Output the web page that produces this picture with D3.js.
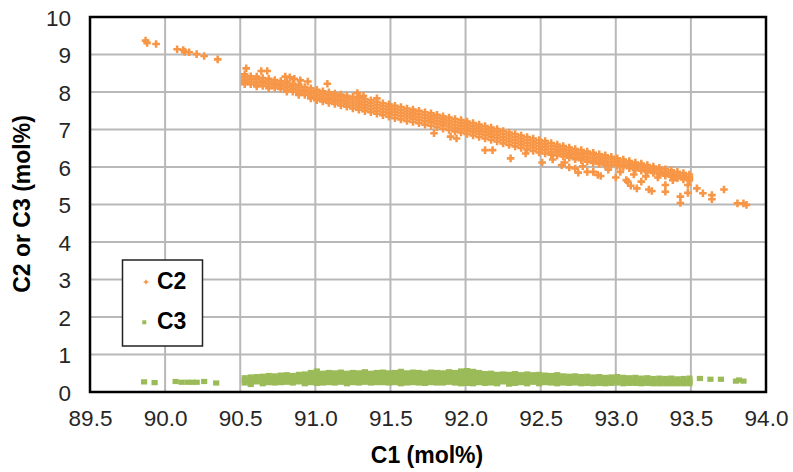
<!DOCTYPE html>
<html><head><meta charset="utf-8">
<script src="https://cdn.jsdelivr.net/npm/d3@7"></script>
<style>body{margin:0;background:#fff}svg{display:block}text{font-family:"Liberation Sans",Arial,sans-serif}</style>
</head><body>
<svg id="chart" width="793" height="472"></svg>
<script>
// ---- Data ----
const xTicks = [89.5, 90.0, 90.5, 91.0, 91.5, 92.0, 92.5, 93.0, 93.5, 94.0];
const yTicks = [0,1,2,3,4,5,6,7,8,9,10];

// C1 columns of the dense band
const bandC1 = [90.53,90.57,90.61,90.65,90.69,90.73,90.77,90.81,90.85,90.89,90.93,90.97,
91.01,91.05,91.09,91.13,91.17,91.21,91.25,91.29,91.33,91.37,91.41,91.45,91.49,
91.53,91.57,91.61,91.65,91.69,91.73,91.77,91.81,91.85,91.89,91.93,91.97,
92.01,92.05,92.09,92.13,92.17,92.21,92.25,92.29,92.33,92.37,92.41,92.45,92.49,
92.53,92.57,92.61,92.65,92.69,92.73,92.77,92.81,92.85,92.89,92.93,92.97,
93.01,93.05,93.09,93.13,93.17,93.21,93.25,93.29,93.33,93.37,93.41,93.45,93.49];

// C2 values in each band column
const bandC2 = [
[8.47,8.40,8.33,8.26,8.21],[8.42,8.35,8.28,8.21],[8.41,8.34,8.27,8.20,8.15],[8.37,8.30,8.23,8.16],
[8.35,8.28,8.21,8.14,8.10],[8.32,8.25,8.18,8.11],[8.29,8.22,8.15,8.08],[8.27,8.20,8.13,8.06,8.01],
[8.22,8.15,8.08,8.01],[8.19,8.12,8.05,7.98,7.92],[8.13,8.06,7.99,7.92],[8.10,8.03,7.96,7.89,7.83],
[8.06,7.99,7.92,7.85,7.78],[8.02,7.95,7.88,7.81,7.75],[7.99,7.92,7.85,7.78,7.71],[7.96,7.89,7.82,7.75,7.68],
[7.93,7.86,7.79,7.72,7.64],[7.90,7.83,7.76,7.69,7.61],[7.87,7.80,7.72,7.64,7.56],[7.85,7.77,7.69,7.61,7.53],
[7.81,7.73,7.65,7.57,7.49],[7.78,7.70,7.62,7.54,7.46],[7.74,7.66,7.58,7.50,7.42],[7.70,7.62,7.54,7.46,7.38],
[7.67,7.59,7.51,7.43,7.34],[7.63,7.55,7.47,7.39,7.30],[7.60,7.52,7.44,7.36,7.27],[7.56,7.48,7.40,7.32,7.23],
[7.53,7.45,7.37,7.29,7.20],[7.50,7.42,7.34,7.26,7.17],[7.46,7.38,7.30,7.22,7.13],[7.43,7.35,7.27,7.19,7.10],
[7.39,7.31,7.23,7.15,7.06],[7.35,7.27,7.19,7.11,7.02],[7.32,7.24,7.16,7.08,6.99],[7.28,7.20,7.12,7.04,6.95],
[7.25,7.17,7.09,7.01,6.92],[7.21,7.13,7.05,6.97,6.88],[7.17,7.09,7.01,6.93,6.84],[7.13,7.05,6.97,6.89,6.80],
[7.09,7.01,6.93,6.85,6.76],[7.05,6.97,6.89,6.81,6.72],[7.01,6.93,6.85,6.77,6.68],[6.96,6.88,6.80,6.72,6.63],
[6.92,6.84,6.76,6.68,6.59],[6.88,6.80,6.72,6.64,6.55],[6.84,6.76,6.68,6.60,6.51],[6.80,6.72,6.64,6.56,6.47],
[6.76,6.68,6.60,6.52,6.43],[6.72,6.64,6.56,6.48,6.39],[6.69,6.61,6.53,6.45,6.36],[6.64,6.56,6.48,6.40,6.33],
[6.60,6.53,6.46,6.39,6.31],[6.56,6.49,6.42,6.35,6.28],[6.52,6.45,6.38,6.31,6.25],[6.48,6.41,6.34,6.27,6.21],
[6.45,6.38,6.31,6.24,6.18],[6.41,6.34,6.27,6.20,6.14],[6.38,6.31,6.24,6.17,6.11],[6.34,6.27,6.20,6.13,6.08],
[6.31,6.24,6.17,6.10,6.05],[6.27,6.20,6.13,6.06],[6.23,6.16,6.09,6.03],[6.20,6.13,6.06,6.00],
[6.16,6.09,6.02,5.97],[6.12,6.05,5.99,5.93],[6.09,6.02,5.96,5.90],[6.05,5.98,5.92,5.87],
[6.01,5.94,5.88,5.84],[5.98,5.91,5.85,5.80],[5.94,5.87,5.82,5.77],[5.91,5.84,5.79,5.74],
[5.87,5.80,5.75,5.70],[5.84,5.77,5.72,5.67],[5.80,5.73,5.68,5.64]];

// C3 values in each band column
const bandC3 = [
[0.38,0.31,0.24],[0.40,0.33,0.26,0.20],[0.41,0.34,0.27],[0.42,0.35,0.28,0.22],
[0.44,0.37,0.30,0.25],[0.43,0.36,0.29,0.24],[0.45,0.38,0.31,0.25],[0.46,0.39,0.32,0.26],
[0.44,0.37,0.30,0.24],[0.47,0.40,0.33,0.27],[0.48,0.41,0.34,0.27,0.22],[0.52,0.45,0.38,0.31,0.25],
[0.56,0.49,0.42,0.35,0.28,0.23],[0.50,0.43,0.36,0.29,0.24],[0.52,0.45,0.38,0.31,0.25],[0.51,0.44,0.37,0.30,0.24],
[0.53,0.46,0.39,0.32,0.26],[0.50,0.43,0.36,0.29,0.22],[0.52,0.45,0.38,0.31,0.25],[0.51,0.44,0.37,0.30,0.24],
[0.54,0.47,0.40,0.33,0.26],[0.50,0.43,0.36,0.29,0.24],[0.52,0.45,0.38,0.31,0.25],[0.53,0.46,0.39,0.32,0.25],
[0.51,0.44,0.37,0.30,0.24],[0.52,0.45,0.38,0.31,0.25],[0.55,0.48,0.41,0.34,0.27,0.22],[0.51,0.44,0.37,0.30,0.24],
[0.53,0.46,0.39,0.32,0.25],[0.52,0.45,0.38,0.31,0.24],[0.50,0.43,0.36,0.29,0.23],[0.53,0.46,0.39,0.32,0.25],
[0.52,0.45,0.38,0.31,0.24],[0.51,0.44,0.37,0.30,0.24],[0.54,0.47,0.40,0.33,0.26],[0.52,0.45,0.38,0.31,0.24],
[0.56,0.49,0.42,0.35,0.28,0.22],[0.57,0.50,0.43,0.36,0.29,0.23],[0.55,0.48,0.41,0.34,0.27,0.22],[0.52,0.45,0.38,0.31,0.25],
[0.49,0.42,0.35,0.28,0.23],[0.50,0.43,0.36,0.29,0.24],[0.47,0.40,0.33,0.26,0.22],[0.48,0.41,0.34,0.27],
[0.47,0.40,0.33,0.26,0.21],[0.49,0.42,0.35,0.28,0.23],[0.46,0.39,0.32,0.25],[0.48,0.41,0.34,0.27,0.22],
[0.46,0.39,0.32,0.26],[0.47,0.40,0.33,0.26,0.22],[0.45,0.38,0.31,0.25],[0.44,0.37,0.30,0.24],
[0.46,0.39,0.32,0.26,0.22],[0.43,0.36,0.29,0.24],[0.42,0.35,0.28,0.23],[0.43,0.36,0.29,0.24],
[0.41,0.34,0.27,0.22],[0.42,0.35,0.28,0.23],[0.40,0.33,0.27,0.22],[0.41,0.34,0.28,0.23],
[0.39,0.33,0.27,0.22],[0.40,0.34,0.28,0.23],[0.41,0.35,0.29,0.24],[0.39,0.33,0.27,0.22],
[0.38,0.32,0.27,0.23],[0.39,0.33,0.28,0.23],[0.37,0.31,0.26,0.22],[0.38,0.32,0.27,0.23],
[0.36,0.31,0.26,0.22],[0.37,0.31,0.26,0.22],[0.36,0.30,0.25,0.22],[0.37,0.31,0.26,0.22],
[0.35,0.30,0.25,0.22],[0.36,0.30,0.25,0.22],[0.37,0.31,0.26,0.22]];

// scattered C2 points outside the band [C1, C2]
const c2Scatter = [
[89.87,9.37],[89.88,9.31],[89.94,9.28],[90.08,9.14],[90.12,9.12],[90.13,9.07],[90.16,9.06],[90.21,9.01],[90.26,8.96],[90.35,8.87],
[90.54,8.63],[90.64,8.56],[90.68,8.56],[90.80,8.41],[90.83,8.39],[90.86,8.35],[90.90,8.31],[90.95,8.28],[91.08,8.22],
[91.28,7.97],[91.32,7.90],[91.41,7.83],
[91.79,6.90],[91.90,6.81],[91.94,6.76],[92.13,6.45],[92.18,6.45],[92.30,6.23],[92.40,6.36],[92.58,6.20],[92.66,6.12],
[92.51,6.12],[92.64,6.05],[92.69,5.99],[92.73,5.96],[92.75,5.85],[92.78,6.02],[92.81,5.87],[92.85,5.87],[92.88,5.79],[92.90,5.76],
[92.95,5.93],[93.00,5.72],[93.03,5.87],[93.07,5.65],[93.08,5.61],[93.10,5.50],[93.12,5.80],[93.14,5.43],[93.17,5.61],[93.20,5.75],
[93.22,5.40],[93.24,5.36],[93.28,5.72],[93.33,5.52],[93.33,5.34],[93.38,5.65],[93.43,5.21],[93.43,5.04],[93.48,5.31],
[93.48,5.52],[93.54,5.43],[93.58,5.30],[93.64,5.25],[93.64,5.14],[93.72,5.40],[93.81,5.03],[93.85,5.03],[93.87,4.99]];

// scattered C3 points outside the band [C1, C3]
const c3Scatter = [
[89.86,0.27],[89.93,0.25],[90.07,0.28],[90.11,0.26],[90.15,0.26],[90.18,0.26],[90.21,0.26],[90.26,0.28],[90.34,0.24],
[93.56,0.36],[93.63,0.34],[93.70,0.34],[93.80,0.29],[93.82,0.32],[93.85,0.29]];

const seriesNames = ["C2", "C3"];
const seriesColors = ["#F79646", "#9BBB59"];

// ---- Build point lists ----
const c2Points = c2Scatter.slice();
bandC1.forEach((x, i) => bandC2[i].forEach(y => c2Points.push([x, y])));
const c3Points = c3Scatter.slice();
bandC1.forEach((x, i) => bandC3[i].forEach(y => c3Points.push([x, y])));

// ---- Layout ----
const svg = d3.select("#chart");
const L = 90, R = 766, T = 17, B = 392;
const x = d3.scaleLinear().domain([89.5, 94.0]).range([L, R]);
const y = d3.scaleLinear().domain([0, 10]).range([B, T]);

// gridlines
svg.append("g").selectAll("line.v").data(xTicks).join("line")
  .attr("x1", d => x(d)).attr("x2", d => x(d)).attr("y1", T).attr("y2", B)
  .attr("stroke", "#b8b8b8").attr("stroke-width", 2);
svg.append("g").selectAll("line.h").data(yTicks).join("line")
  .attr("x1", L).attr("x2", R).attr("y1", d => y(d)).attr("y2", d => y(d))
  .attr("stroke", "#b8b8b8").attr("stroke-width", 2);

// axes (labels only)
const xAxis = svg.append("g").attr("transform", `translate(0,${B})`)
  .call(d3.axisBottom(x).tickValues(xTicks).tickFormat(d3.format(".1f")).tickSize(0).tickPadding(20));
const yAxis = svg.append("g").attr("transform", `translate(${L},0)`)
  .call(d3.axisLeft(y).tickValues(yTicks).tickFormat(d3.format("d")).tickSize(0).tickPadding(19));
[xAxis, yAxis].forEach(a => {
  a.select(".domain").remove();
  a.selectAll("text").attr("font-size", 22.5).attr("fill", "#262626")
    .attr("font-family", "'Liberation Sans', Arial, sans-serif");
});
xAxis.selectAll("text").attr("dy", "0.6em");
yAxis.selectAll("text").attr("dy", "0.36em");

// points
const cross = d3.symbol().type(d3.symbolCross).size(32);
svg.append("g").selectAll("path").data(c2Points).join("path")
  .attr("d", cross).attr("transform", d => `translate(${x(d[0])},${y(d[1])})`)
  .attr("fill", seriesColors[0]);
svg.append("g").selectAll("rect").data(c3Points).join("rect")
  .attr("x", d => x(d[0]) - 3.1).attr("y", d => y(d[1]) - 2.6)
  .attr("width", 6.2).attr("height", 5.2).attr("fill", seriesColors[1]);

// plot border
svg.append("rect").attr("x", L).attr("y", T).attr("width", R - L).attr("height", B - T)
  .attr("fill", "none").attr("stroke", "#000").attr("stroke-width", 2.5);

// axis titles
svg.append("text").attr("x", 427).attr("y", 463).attr("text-anchor", "middle")
  .attr("font-size", 23).attr("font-weight", "bold").attr("fill", "#000").text("C1 (mol%)");
svg.append("text").attr("transform", "translate(30,204) rotate(-90)").attr("text-anchor", "middle")
  .attr("font-size", 23).attr("font-weight", "bold").attr("fill", "#000").text("C2 or C3 (mol%)");

// legend
const lg = svg.append("g");
lg.append("rect").attr("x", 122.5).attr("y", 260).attr("width", 80).attr("height", 86)
  .attr("fill", "#fff").attr("stroke", "#222").attr("stroke-width", 1.5);
lg.append("path").attr("d", d3.symbol().type(d3.symbolCross).size(12))
  .attr("transform", "translate(146,282)").attr("fill", seriesColors[0]);
lg.append("rect").attr("x", 142.3).attr("y", 320.3).attr("width", 4).attr("height", 4).attr("fill", seriesColors[1]);
lg.selectAll("text").data(seriesNames).join("text")
  .attr("x", 157).attr("y", (d, i) => 289 + i * 40)
  .attr("font-size", 23).attr("font-weight", "bold").attr("fill", "#000").text(d => d);
</script>
</body></html>
